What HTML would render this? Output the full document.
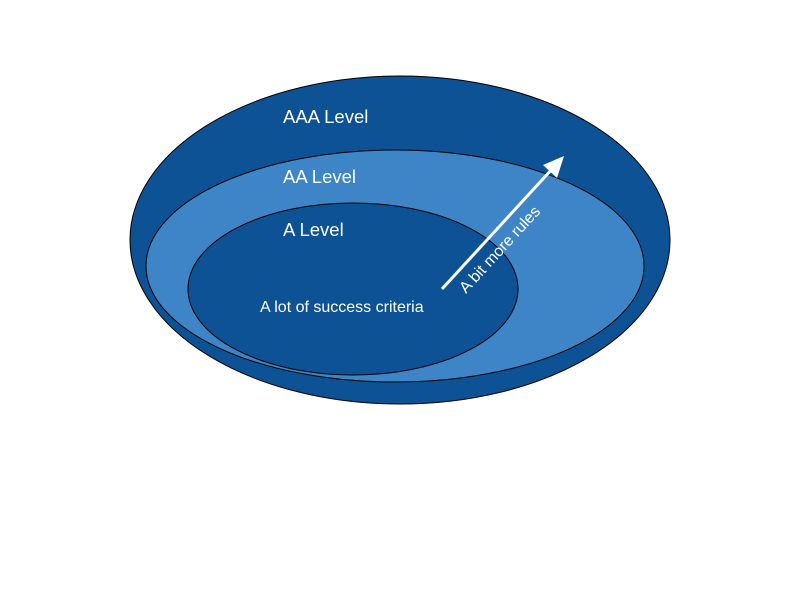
<!DOCTYPE html>
<html><head><style>body{margin:0;background:#fff}</style></head><body>
<svg width="800" height="600" xmlns="http://www.w3.org/2000/svg" style="display:block">
<rect width="800" height="600" fill="#fff"/>
<ellipse cx="400" cy="240" rx="270" ry="164" fill="#0d5295" stroke="#000" stroke-width="1"/>
<ellipse cx="395" cy="266" rx="249" ry="116" fill="#3d85c6" stroke="#000" stroke-width="1"/>
<ellipse cx="353" cy="289" rx="165" ry="86" fill="#0d5295" stroke="#000" stroke-width="1"/>
<g font-family="Liberation Sans, sans-serif" fill="#fff">
<text x="283" y="123" font-size="18.5">AAA Level</text>
<text x="283" y="183" font-size="18.5">AA Level</text>
<text x="283" y="236" font-size="18.5">A Level</text>
<text x="260" y="312" font-size="16">A lot of success criteria</text>
<text x="0" y="0" font-size="16" transform="translate(466,294) rotate(-47.5)">A bit more rules</text>
</g>
<line x1="442" y1="289" x2="553" y2="168" stroke="#fff" stroke-width="3"/>
<polygon points="564,156 557,178 543,165" fill="#fff"/>
</svg>
</body></html>
